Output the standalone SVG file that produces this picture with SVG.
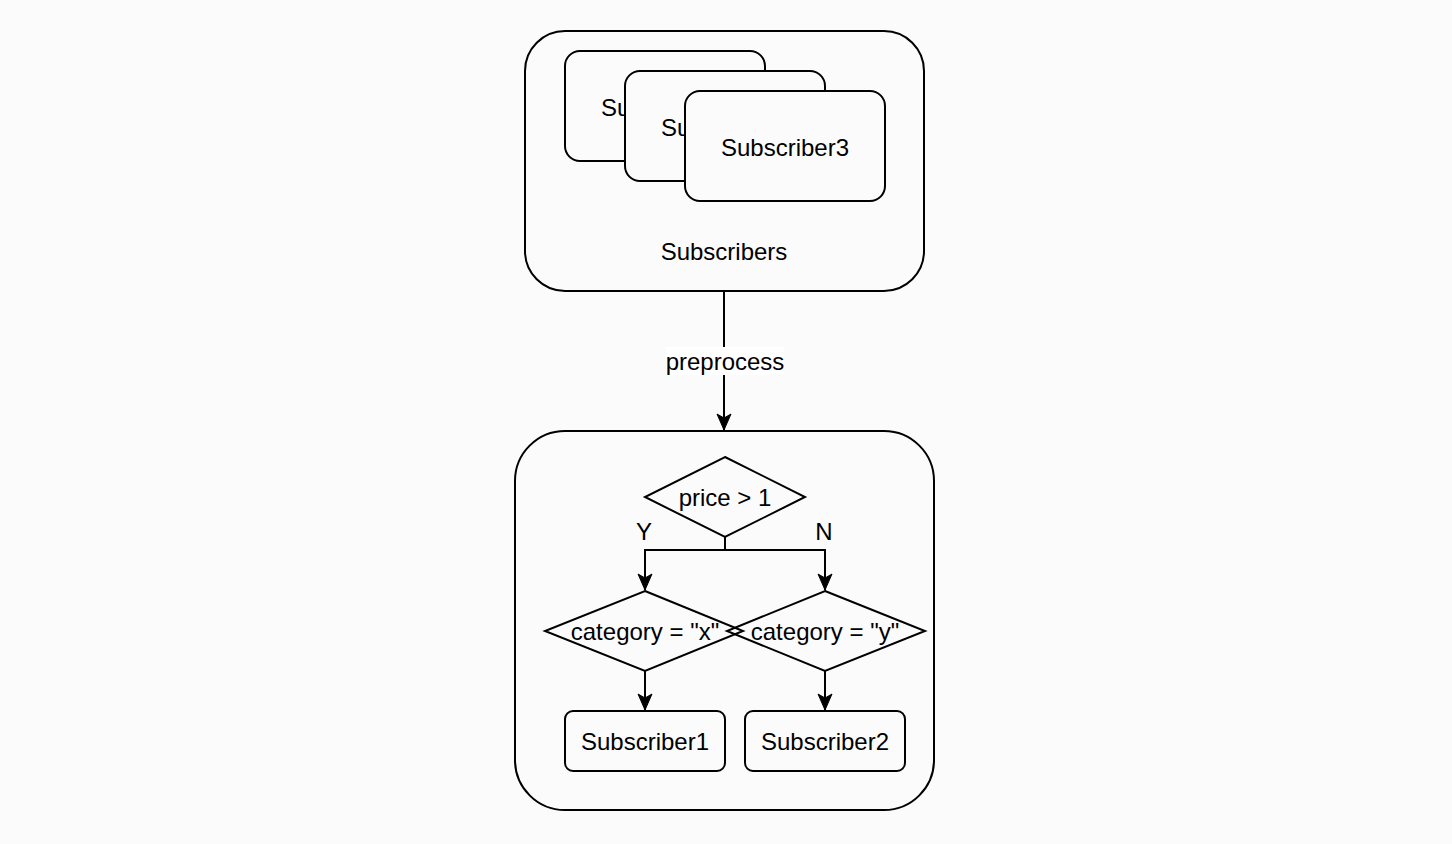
<svg xmlns="http://www.w3.org/2000/svg" width="1452" height="844" viewBox="0 0 1452 844">
<defs>
<style>
.box{fill:#fbfbfc;stroke:#000;stroke-width:2}
.edge{fill:none;stroke:#000;stroke-width:2}
.t{font-family:"Liberation Sans",Arial,Helvetica,sans-serif;font-size:24px;fill:#000;text-anchor:middle}
</style>
<clipPath id="clip1"><rect x="566" y="52" width="58" height="108"/></clipPath>
<clipPath id="clip2"><rect x="626" y="72" width="58" height="108"/></clipPath>
<marker id="arr" viewBox="-1 -8 18 16" refX="16" refY="0" markerWidth="18" markerHeight="16" markerUnits="userSpaceOnUse" orient="auto">
<path d="M0,-7 L16,0 L0,7 L4,0 Z" fill="#000" stroke="#000" stroke-width="1"/>
</marker>
</defs>
<rect x="0" y="0" width="1452" height="844" fill="#fbfbfc"/>
<g id="subscribers-group">
<rect class="box" x="525" y="31" width="399" height="260" rx="40"/>
<text class="t" x="724" y="259.5">Subscribers</text>
</g>
<g id="sub1-stack">
<rect class="box" x="565" y="51" width="200" height="110" rx="15"/>
<text class="t" x="665" y="115.5" clip-path="url(#clip1)">Subscriber1</text>
</g>
<g id="sub2-stack">
<rect class="box" x="625" y="71" width="200" height="110" rx="15"/>
<text class="t" x="725" y="135.5" clip-path="url(#clip2)">Subscriber2</text>
</g>
<g id="sub3-stack">
<rect class="box" x="685" y="91" width="200" height="110" rx="15"/>
<text class="t" x="785" y="155.5">Subscriber3</text>
</g>
<g id="filter-group">
<rect class="box" x="515" y="431" width="419" height="379" rx="50"/>
</g>
<g id="connectors">
<path class="edge" d="M724,291 V430" marker-end="url(#arr)"/>
<rect x="666" y="347" width="118" height="28" fill="#ffffff"/>
<text class="t" x="725" y="369.5">preprocess</text>
<path class="edge" d="M725,537 V550 H645 V590" marker-end="url(#arr)"/>
<path class="edge" d="M725,550 H825 V590" marker-end="url(#arr)"/>
<text class="t" x="644" y="539.5">Y</text>
<text class="t" x="824" y="539.5">N</text>
<path class="edge" d="M645,671 V710" marker-end="url(#arr)"/>
<path class="edge" d="M825,671 V710" marker-end="url(#arr)"/>
</g>
<g id="price-decision">
<path class="box" d="M725,457 L805,497 L725,537 L645,497 Z"/>
<text class="t" x="725" y="505.5">price &gt; 1</text>
</g>
<g id="category-x">
<path class="edge" d="M645,591 L743,631 L645,671 L545,631 Z"/>
</g>
<g id="category-y">
<path class="edge" d="M825,591 L925,631 L825,671 L727,631 Z"/>
</g>
<text class="t" x="645" y="639.5">category = "x"</text>
<text class="t" x="825" y="639.5">category = "y"</text>
<g id="subscriber1">
<rect class="box" x="565" y="711" width="160" height="60" rx="8"/>
<text class="t" x="645" y="749.5">Subscriber1</text>
</g>
<g id="subscriber2">
<rect class="box" x="745" y="711" width="160" height="60" rx="8"/>
<text class="t" x="825" y="749.5">Subscriber2</text>
</g>
</svg>
